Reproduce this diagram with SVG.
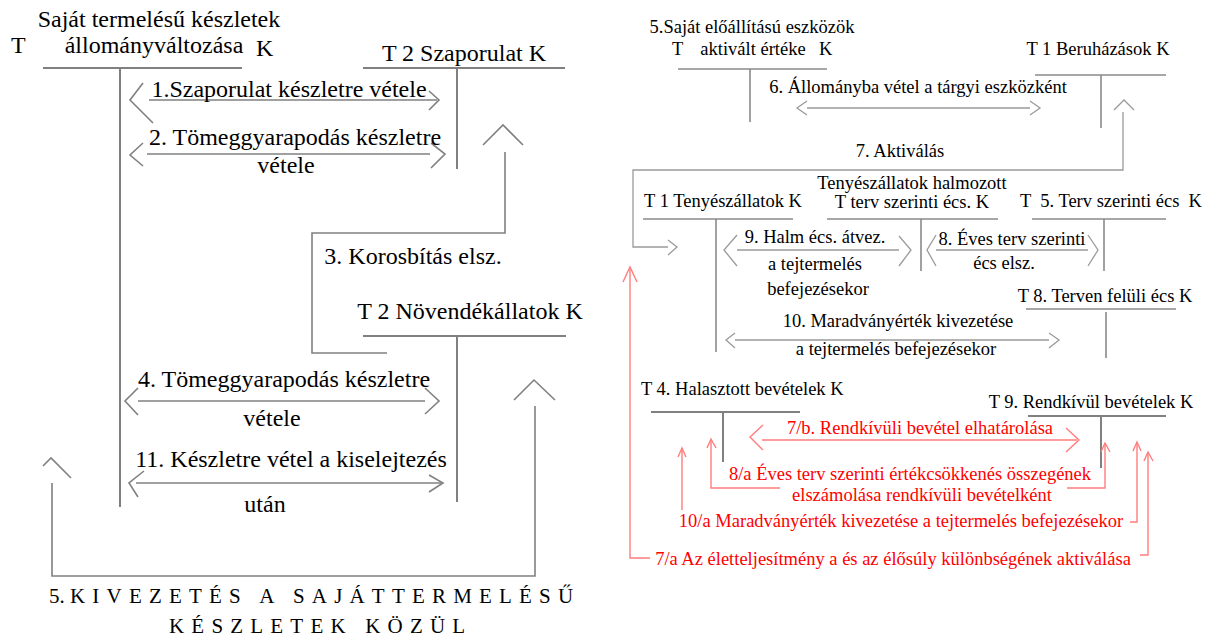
<svg xmlns="http://www.w3.org/2000/svg" width="1212" height="639" viewBox="0 0 1212 639">
  <style>
    text { font-family: "Liberation Serif", "Times New Roman", serif; fill: #000; }
    .big { font-size: 24px; }
    .sm { font-size: 18.5px; }
    .red { fill: #ff0000; }
    .mid { text-anchor: middle; }
    .spaced { font-size: 21px; letter-spacing: 7.2px; }
    .acc { stroke: #808080; stroke-width: 2; fill: none; }
    .acc2 { stroke: #8a8a8a; stroke-width: 1.6; fill: none; }
    .con { stroke: #808080; stroke-width: 1.6; fill: none; }
    .con2 { stroke: #9a9a9a; stroke-width: 1.3; fill: none; }
    .rcon { stroke: #ff7d7d; stroke-width: 1.4; fill: none; }
  </style>
  <rect width="1212" height="639" fill="#fff"/>

  <!-- T-accounts: left half -->
  <g id="sajat-termelesu-keszletek">
    <text class="big mid" x="159" y="27">Saját termelésű készletek</text>
    <text class="big" x="11" y="53">T</text>
    <text class="big mid" x="154" y="53">állományváltozása</text>
    <text class="big" x="256" y="56">K</text>
    <line class="acc" x1="43" y1="68" x2="242" y2="68"/>
    <line class="acc" x1="120" y1="68" x2="120" y2="507"/>
  </g>
  <g id="szaporulat">
    <text class="big mid" x="464" y="61">T 2 Szaporulat K</text>
    <line class="acc" x1="363" y1="68" x2="565" y2="68"/>
    <line class="acc" x1="457" y1="68" x2="457" y2="169"/>
  </g>
  <g id="novendekallatok">
    <text class="big mid" x="470" y="319">T 2 Növendékállatok K</text>
    <line class="acc" x1="363" y1="336" x2="566" y2="336"/>
    <line class="acc" x1="457" y1="336" x2="457" y2="502"/>
  </g>

  <!-- T-accounts: right half -->
  <g id="sajat-eloallitasu-eszkozok">
    <text class="sm mid" x="752" y="33">5.Saját előállítású eszközök</text>
    <text class="sm" x="672" y="55">T</text>
    <text class="sm mid" x="753" y="55">aktivált értéke</text>
    <text class="sm" x="819" y="55">K</text>
    <line class="acc2" x1="678" y1="69" x2="827" y2="69"/>
    <line class="acc2" x1="750" y1="69" x2="750" y2="122"/>
  </g>
  <g id="beruhazasok">
    <text class="sm mid" x="1098" y="55">T 1 Beruházások K</text>
    <line class="acc2" x1="1035" y1="75" x2="1166" y2="75"/>
    <line class="acc2" x1="1101" y1="75" x2="1101" y2="128"/>
  </g>
  <g id="tenyeszallatok">
    <text class="sm mid" x="723" y="207">T 1 Tenyészállatok K</text>
    <line class="acc2" x1="643" y1="219" x2="793" y2="219"/>
    <line class="acc2" x1="716" y1="219" x2="716" y2="352"/>
  </g>
  <g id="halmozott-ecs">
    <text class="sm mid" x="912" y="189">Tenyészállatok halmozott</text>
    <text class="sm mid" x="912" y="208">T terv szerinti écs. K</text>
    <line class="acc2" x1="827" y1="219" x2="998" y2="219"/>
    <line class="acc2" x1="921" y1="219" x2="921" y2="271"/>
  </g>
  <g id="terv-szerinti-ecs">
    <text class="sm mid" x="1111" y="207" xml:space="preserve">T  5. Terv szerinti écs  K</text>
    <line class="acc2" x1="1032" y1="219" x2="1166" y2="219"/>
    <line class="acc2" x1="1104" y1="219" x2="1104" y2="271"/>
  </g>
  <g id="terven-feluli-ecs">
    <text class="sm mid" x="1105" y="302">T 8. Terven felüli écs K</text>
    <line class="acc2" x1="1026" y1="309" x2="1176" y2="309"/>
    <line class="acc2" x1="1106" y1="312" x2="1106" y2="358"/>
  </g>
  <g id="halasztott-bevetelek">
    <text class="sm" x="641" y="395">T 4. Halasztott bevételek K</text>
    <line class="acc" x1="651" y1="412" x2="800" y2="412"/>
    <line class="acc" x1="723" y1="412" x2="723" y2="462"/>
  </g>
  <g id="rendkivul-bevetelek">
    <text class="sm mid" x="1091" y="408">T 9. Rendkívül bevételek K</text>
    <line class="acc" x1="1028" y1="416" x2="1166" y2="416"/>
    <line class="acc" x1="1101" y1="416" x2="1101" y2="468"/>
  </g>

  <!-- Connectors -->
  <g id="connectors">
    <!-- 1 -->
    <line class="con" x1="149" y1="100" x2="437" y2="100"/>
    <polyline class="con" points="143,83 130,100 153,123"/>
    <polyline class="con" points="429,91 439,100 429,110"/>
    <!-- 2 -->
    <line class="con" x1="147" y1="154" x2="430" y2="154"/>
    <polyline class="con" points="143,143 130,155 143,166"/>
    <polyline class="con" points="431,143 445,154 431,168"/>
    <!-- 3 -->
    <polyline class="con" points="387,353 312,353 312,233 505,233 505,152"/>
    <polyline class="con" points="483,145 503,125 523,145"/>
    <!-- 4 -->
    <line class="con" x1="138" y1="401" x2="425" y2="401"/>
    <polyline class="con" points="138,388 125,401 138,415"/>
    <polyline class="con" points="425,388 439,401 425,414"/>
    <!-- 11 -->
    <line class="con" x1="136" y1="483" x2="441" y2="483"/>
    <polyline class="con" points="144,471 129,483 138,497"/>
    <polyline class="con" points="429,475 443,483 429,492"/>
    <!-- 5 -->
    <polyline class="con" points="52,483 52,576 535,576 535,406"/>
    <polyline class="con" points="514,400 534,380 555,400"/>
    <polyline class="con" points="43,466 51,458 71,478"/>

    <!-- 6 -->
    <line class="con2" x1="807" y1="108" x2="1030" y2="108"/>
    <polyline class="con2" points="807,101 797,108 807,115"/>
    <polyline class="con2" points="1030,101 1040,108 1030,115"/>
    <!-- 7 -->
    <polyline class="con2" points="668,247 633,247 633,170 1123,170 1123,112"/>
    <polyline class="con2" points="1114,110 1124,100 1134,110"/>
    <polyline class="con2" points="668,240 677,247 668,255"/>
    <!-- 9 -->
    <line class="con2" x1="737" y1="250" x2="899" y2="250"/>
    <polyline class="con2" points="737,235 724,250 737,266"/>
    <polyline class="con2" points="899,236 911,250 899,266"/>
    <!-- 8 -->
    <line class="con2" x1="936" y1="250" x2="1088" y2="250"/>
    <polyline class="con2" points="936,235 927,250 936,266"/>
    <polyline class="con2" points="1088,235 1098,250 1088,266"/>
    <!-- 10 -->
    <line class="con2" x1="735" y1="340" x2="1049" y2="340"/>
    <polyline class="con2" points="735,333 726,340 735,348"/>
    <polyline class="con2" points="1049,333 1059,340 1049,348"/>

    <!-- 7/b -->
    <line class="rcon" x1="762" y1="440" x2="1077" y2="440"/>
    <polyline class="rcon" points="763,425 750,437 763,450"/>
    <polyline class="rcon" points="1066,428 1079,440 1066,452"/>
    <!-- 8/a -->
    <polyline class="rcon" points="780,488 711,488 711,440"/>
    <polyline class="rcon" points="707,448 711,439 716,448"/>
    <polyline class="rcon" points="1067,488 1105,488 1105,444"/>
    <polyline class="rcon" points="1101,452 1105,443 1110,452"/>
    <!-- 10/a -->
    <line class="rcon" x1="682" y1="510" x2="682" y2="449"/>
    <polyline class="rcon" points="678,457 682,448 686,457"/>
    <polyline class="rcon" points="1130,522 1137,522 1137,443"/>
    <polyline class="rcon" points="1133,451 1137,442 1141,451"/>
    <!-- 7/a -->
    <polyline class="rcon" points="650,558 630,558 630,268"/>
    <polyline class="rcon" points="623,282 630,267 637,282"/>
    <polyline class="rcon" points="1140,555 1148,555 1148,453"/>
    <polyline class="rcon" points="1144,461 1148,452 1153,461"/>
  </g>

  <!-- Connector labels -->
  <g id="labels">
    <text class="big mid" x="289" y="97">1.Szaporulat készletre vétele</text>
    <text class="big mid" x="295" y="145">2. Tömeggyarapodás készletre</text>
    <text class="big mid" x="286" y="173">vétele</text>
    <text class="big mid" x="413" y="264">3. Korosbítás elsz.</text>
    <text class="big mid" x="284" y="387">4. Tömeggyarapodás készletre</text>
    <text class="big mid" x="272" y="426">vétele</text>
    <text class="big mid" x="291" y="467">11. Készletre vétel a kiselejtezés</text>
    <text class="big mid" x="265" y="512">után</text>
    <text font-size="21" x="49" y="603">5.<tspan class="spaced" x="70">KIVEZETÉS A SAJÁTTERMELÉSŰ</tspan></text>
    <text class="spaced" x="169" y="633">KÉSZLETEK KÖZÜL</text>

    <text class="sm mid" x="918" y="93">6. Állományba vétel a tárgyi eszközként</text>
    <text class="sm mid" x="900" y="157">7. Aktiválás</text>
    <text class="sm mid" x="815" y="243">9. Halm écs. átvez.</text>
    <text class="sm mid" x="815" y="270">a tejtermelés</text>
    <text class="sm mid" x="818" y="295">befejezésekor</text>
    <text class="sm mid" x="1012" y="245">8. Éves terv szerinti</text>
    <text class="sm mid" x="1004" y="269">écs elsz.</text>
    <text class="sm mid" x="898" y="327">10. Maradványérték kivezetése</text>
    <text class="sm mid" x="896" y="355">a tejtermelés befejezésekor</text>

    <text class="sm mid red" x="920" y="434">7/b. Rendkívüli bevétel elhatárolása</text>
    <text class="sm mid red" x="910" y="480">8/a Éves terv szerinti értékcsökkenés összegének</text>
    <text class="sm mid red" x="922" y="501">elszámolása rendkívüli bevételként</text>
    <text class="sm mid red" x="901" y="527">10/a Maradványérték kivezetése a tejtermelés befejezésekor</text>
    <text class="sm mid red" x="893" y="565">7/a Az életteljesítmény a és az élősúly különbségének aktiválása</text>
  </g>
</svg>
